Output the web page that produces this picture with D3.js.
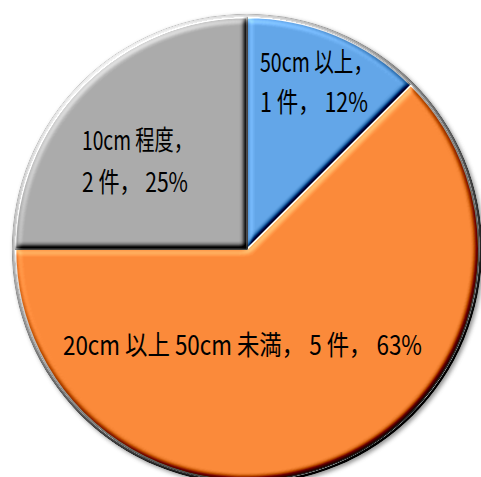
<!DOCTYPE html>
<html>
<head>
<meta charset="utf-8">
<script src="https://cdn.jsdelivr.net/npm/d3@7/dist/d3.min.js"></script>
<style>
  html, body { margin: 0; padding: 0; background: #fff; }
  svg { display: block; }
  text { font-family: "Noto Sans CJK JP", "Noto Sans CJK SC", sans-serif; fill: #000; }
</style>
</head>
<body>
<script>
// Damage size categories, number of cases and the shown percentages
const categories = ["50cm 以上", "20cm 以上 50cm 未満", "10cm 程度"];
const counts = [1, 5, 2];
const percents = [12, 63, 25];
const colors = ["#63a6e8", "#fb8a3a", "#ababab"];

const W = 481, H = 477;
const cx = 247, cy = 249, R = 235;

// label block placement relative to the pie centre: left edge, first baseline, line gap, line widths
const labelLayout = [
  { x: 13, y: -177, gap: 40, split: true, widths: [113, 108] },
  { x: -184, y: 106, gap: 0, split: false, widths: [359] },
  { x: -165, y: -99, gap: 42, split: true, widths: [111, 106] }
];

const svg = d3.select("body").append("svg")
  .attr("width", W).attr("height", H);

const defs = svg.append("defs");

// soft bevel: diffuse lighting on the blurred alpha, added to the fill
const elev = 55;
const bevel = defs.append("filter").attr("id", "bevel")
  .attr("x", "-5%").attr("y", "-5%").attr("width", "110%").attr("height", "110%")
  .attr("color-interpolation-filters", "sRGB");
bevel.append("feGaussianBlur").attr("in", "SourceAlpha").attr("stdDeviation", 3.4).attr("result", "blur");
const lit = bevel.append("feDiffuseLighting").attr("in", "blur")
  .attr("surfaceScale", 6).attr("diffuseConstant", 1).attr("lighting-color", "#fff").attr("result", "light");
lit.append("feDistantLight").attr("azimuth", 235).attr("elevation", elev);
bevel.append("feComposite").attr("in", "SourceGraphic").attr("in2", "light")
  .attr("operator", "arithmetic").attr("k1", 0).attr("k2", 1).attr("k3", 1.1)
  .attr("k4", -1.1 * Math.sin(elev * Math.PI / 180)).attr("result", "shaded");
bevel.append("feComposite").attr("in", "shaded").attr("in2", "SourceAlpha").attr("operator", "in");

const shadow = defs.append("filter").attr("id", "shadow")
  .attr("x", "-10%").attr("y", "-10%").attr("width", "120%").attr("height", "120%");
shadow.append("feGaussianBlur").attr("stdDeviation", 2);

const g = svg.append("g").attr("transform", `translate(${cx},${cy})`);

// drop shadow and outer rim
g.append("circle").attr("cx", 2).attr("cy", 2).attr("r", R)
  .attr("fill", "#6d6d6d").attr("opacity", 0.75).attr("filter", "url(#shadow)");
g.append("circle").attr("r", R).attr("fill", "#c9c9c9").attr("filter", "url(#bevel)");
g.append("circle").attr("r", R - 2.5).attr("fill", "#fff");

const pie = d3.pie().sort(null).value(d => d)
  .startAngle(0).endAngle(2 * Math.PI);
const arcs = pie(counts);
const arc = d3.arc().innerRadius(0).outerRadius(R - 3.5);

g.selectAll("path.slice").data(arcs).join("path")
  .attr("class", "slice")
  .attr("d", arc)
  .attr("fill", (d, i) => colors[i])
  .attr("stroke", "#fff").attr("stroke-width", 1.6)
  .attr("filter", "url(#bevel)");

// data labels
arcs.forEach((d, i) => {
  const L = labelLayout[i];
  const tail = `${counts[i]} 件， ${percents[i]}%`;
  const lines = L.split ? [`${categories[i]}，`, tail] : [`${categories[i]}， ${tail}`];
  lines.forEach((s, k) => {
    g.append("text")
      .attr("x", L.x).attr("y", L.y + k * L.gap)
      .attr("font-size", 27)
      .attr("textLength", L.widths[k])
      .attr("lengthAdjust", "spacingAndGlyphs")
      .text(s);
  });
});
</script>
</body>
</html>
